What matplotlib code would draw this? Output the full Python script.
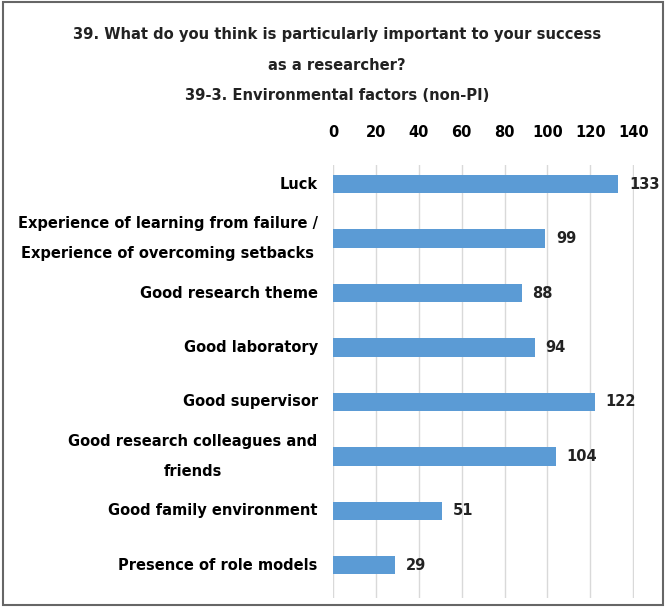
import matplotlib
matplotlib.use("Agg")
import matplotlib.pyplot as plt
from matplotlib.patches import Rectangle

# data
categories = [
    "Luck",
    "Experience of learning from failure /\nExperience of overcoming setbacks",
    "Good research theme",
    "Good laboratory",
    "Good supervisor",
    "Good research colleagues and\nfriends",
    "Good family environment",
    "Presence of role models",
]
counts = [133, 99, 88, 94, 122, 104, 51, 29]
ticks = [0, 20, 40, 60, 80, 100, 120, 140]

bar_color = "#5B9BD5"

fig = plt.figure(figsize=(6.66, 6.07), dpi=100)
ax = fig.add_axes([0.5, 0.015, 0.452, 0.713])

pos = list(range(len(categories)))
ax.barh(pos, counts, height=0.34, color=bar_color, zorder=3)
ax.set_ylim(7.6, -0.35)
ax.set_xlim(0, 140.4)

ax.set_yticks(pos)
ax.set_yticklabels(categories, fontsize=10.5, fontweight="bold",
                   linespacing=2.3, multialignment="center")
for lab in ax.get_yticklabels():
    lab.set_va("center")
ax.tick_params(axis="y", length=0, pad=11)

ax.xaxis.tick_top()
ax.set_xticks(ticks)
ax.set_xticklabels([str(t) for t in ticks], fontsize=10.5, fontweight="bold")
ax.tick_params(axis="x", length=0, pad=18)
ax.grid(axis="x", color="#d9d9d9", linewidth=1, zorder=0)
for s in ax.spines.values():
    s.set_visible(False)

for p, v in zip(pos, counts):
    ax.text(v + 5, p, str(v), va="center", ha="left",
            fontsize=10.5, fontweight="bold", color="#222222")

title_font = dict(ha="center", va="center", fontsize=10.6, fontweight="bold",
                  color="#222222")
fig.text(0.506, 1 - 34 / 607, "39. What do you think is particularly important to your success", **title_font)
fig.text(0.506, 1 - 65 / 607, "as a researcher?", **title_font)
fig.text(0.506, 1 - 96 / 607, "39-3. Environmental factors (non-PI)", **title_font)

fig.patches.append(Rectangle((0.004, 0.004), 0.992, 0.992, transform=fig.transFigure,
                             fill=False, edgecolor="#666666", linewidth=1.5))

fig.savefig("out.png", dpi=100)
